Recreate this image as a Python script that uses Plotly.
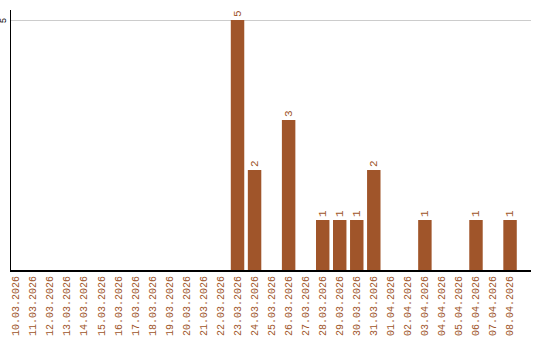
import plotly.graph_objects as go

dates = ["10.03.2026","11.03.2026","12.03.2026","13.03.2026","14.03.2026","15.03.2026",
         "16.03.2026","17.03.2026","18.03.2026","19.03.2026","20.03.2026","21.03.2026",
         "22.03.2026","23.03.2026","24.03.2026","25.03.2026","26.03.2026","27.03.2026",
         "28.03.2026","29.03.2026","30.03.2026","31.03.2026","01.04.2026","02.04.2026",
         "03.04.2026","04.04.2026","05.04.2026","06.04.2026","07.04.2026","08.04.2026"]
values = [0,0,0,0,0,0,0,0,0,0,0,0,0,5,2,0,3,0,1,1,1,2,0,0,1,0,0,1,0,1]

color = "#A0552A"
labels = [str(v) if v else "" for v in values]
mono = "Liberation Mono"

fig = go.Figure(go.Bar(
    x=dates, y=values, marker_color=color, marker_line_width=0,
    text=labels, textposition="outside", textangle=-90,
    textfont=dict(family=mono, size=11, color=color),
    cliponaxis=False,
))
fig.update_layout(
    width=540, height=340,
    margin=dict(l=11, r=9, t=10, b=70),
    plot_bgcolor="white", paper_bgcolor="white",
    bargap=0.21, showlegend=False,
    font=dict(family=mono, size=10),
)
fig.update_xaxes(type="category", range=[-0.3, 30.23], tickangle=-90,
                 showline=True, linecolor="black", linewidth=2,
                 tickfont=dict(color=color, size=10, family=mono), automargin=False,
                 showgrid=False, ticks="")
fig.update_yaxes(range=[0, 5.2], tickvals=[5], ticktext=["5"], tickangle=-90,
                 showline=True, linecolor="black", linewidth=1, automargin=False,
                 gridcolor="#cccccc", zeroline=False, ticks="",
                 ticklabelstandoff=0, ticklabelshift=2,
                 tickfont=dict(color="black", size=9, family=mono))
fig.write_html("out.html")
